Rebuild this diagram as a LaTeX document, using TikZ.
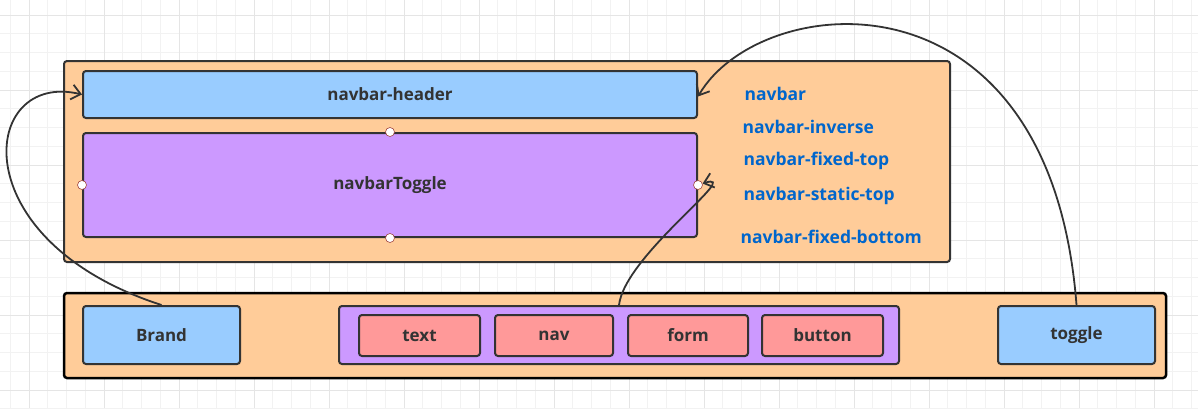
\documentclass[tikz,border=0pt]{standalone}
\usepackage{fontspec}
\setmainfont{Open Sans}
\usepackage{tikz}
\usetikzlibrary{arrows.meta,positioning}
\definecolor{panel}{HTML}{FFCC99}
\definecolor{skyblue}{HTML}{99CCFF}
\definecolor{lilac}{HTML}{CC99FF}
\definecolor{salmon}{HTML}{FF9999}
\definecolor{edge}{HTML}{333333}
\definecolor{classblue}{HTML}{0066CC}
\definecolor{handlered}{HTML}{A0453F}
\tikzset{
  box/.style={draw=edge, line width=2pt, rounded corners=3pt, inner sep=0pt, text=edge,
    font=\bfseries\fontsize{17}{20}\selectfont},
  outer/.style={box, fill=panel},            % container bars
  header/.style={box, fill=skyblue},         % blue blocks
  toggleBox/.style={box, fill=lilac},        % purple blocks
  item/.style={box, fill=salmon},            % collapse items
  cls/.style={anchor=west, text=classblue, font=\bfseries\fontsize{17.5}{20}\selectfont},
  handle/.style={circle, draw=handlered, fill=white, line width=0.6pt, minimum size=9pt, inner sep=0pt},
  link/.style={-{Straight Barb[length=9pt,width=15pt]}, line width=1.8pt, draw=edge},
  gridMinor/.style={draw=black!5, line width=0.8pt},
  gridMajor/.style={draw=black!10, line width=1pt}
}

\begin{document}
\begin{tikzpicture}[x=1pt,y=-1pt]
  \useasboundingbox (0,0) rectangle (1198,408);
  % background grid
  \foreach \i in {-2,...,63} {
    \draw[gridMinor] ({29+18.75*\i},0) -- ++(0,408);
    \draw[gridMinor] (0,{15+18.75*\i}) -- ++(1198,0);
  }
  \foreach \i in {0,...,15} {
    \draw[gridMajor] ({29+75*\i},0) -- ++(0,408);
    \draw[gridMajor] (0,{15+75*\i}) -- ++(1198,0);
  }

  % upper navbar
  \node[outer, minimum width=886pt, minimum height=201pt] (navbar) at (507,161.5) {};
  \node[header, minimum width=614pt, minimum height=47pt] (header) at (390,94.5) {navbar-header};
  \node[toggleBox, minimum width=614pt, minimum height=104pt] (collapse) at (390,185) {navbarToggle};
  \foreach \a in {north,west,east,south}
    \node[handle] (h-\a) at (collapse.\a) {};

  \node[cls] (cNavbar) at (741,94) {navbar};
  \node[cls] (cInverse) at (739,127) {navbar-inverse};
  \node[cls] (cFixedTop) at (740,161) {navbar-fixed-top};
  \node[cls] (cStaticTop) at (740,196) {navbar-static-top};
  \node[cls] (cFixedBottom) at (737,237) {navbar-fixed-bottom};

  % lower bar
  \node[outer, draw=black, line width=2.5pt, minimum width=1102pt, minimum height=85pt] (bar) at (615,335.5) {};
  \node[header, minimum width=157pt, minimum height=58pt] (brand) at (161.5,335) {Brand};
  \node[toggleBox, minimum width=560pt, minimum height=58pt] (group) at (619,335) {};
  \node[item, minimum width=121pt, minimum height=41pt] (text) at (419.5,335.5) {text};
  \node[item, minimum width=118pt, minimum height=41pt] (nav) at (554,335.5) {nav};
  \node[item, minimum width=120pt, minimum height=41pt] (form) at (688,335.5) {form};
  \node[item, minimum width=121pt, minimum height=41pt] (button) at (822.5,335.5) {button};
  \node[header, minimum width=157pt, minimum height=58pt] (toggle) at (1076.5,335) {toggle};

  % connectors
  \draw[link] (brand.north) .. controls (-40,240) and (-20,70) .. (header.west);
  \draw[link] (toggle.north) .. controls (1050,-40) and (760,-10) .. ([yshift=-2pt]header.east);
  \draw[link] (group.north) .. controls (625,255) and (745,170) .. (h-east);
\end{tikzpicture}
\end{document}
